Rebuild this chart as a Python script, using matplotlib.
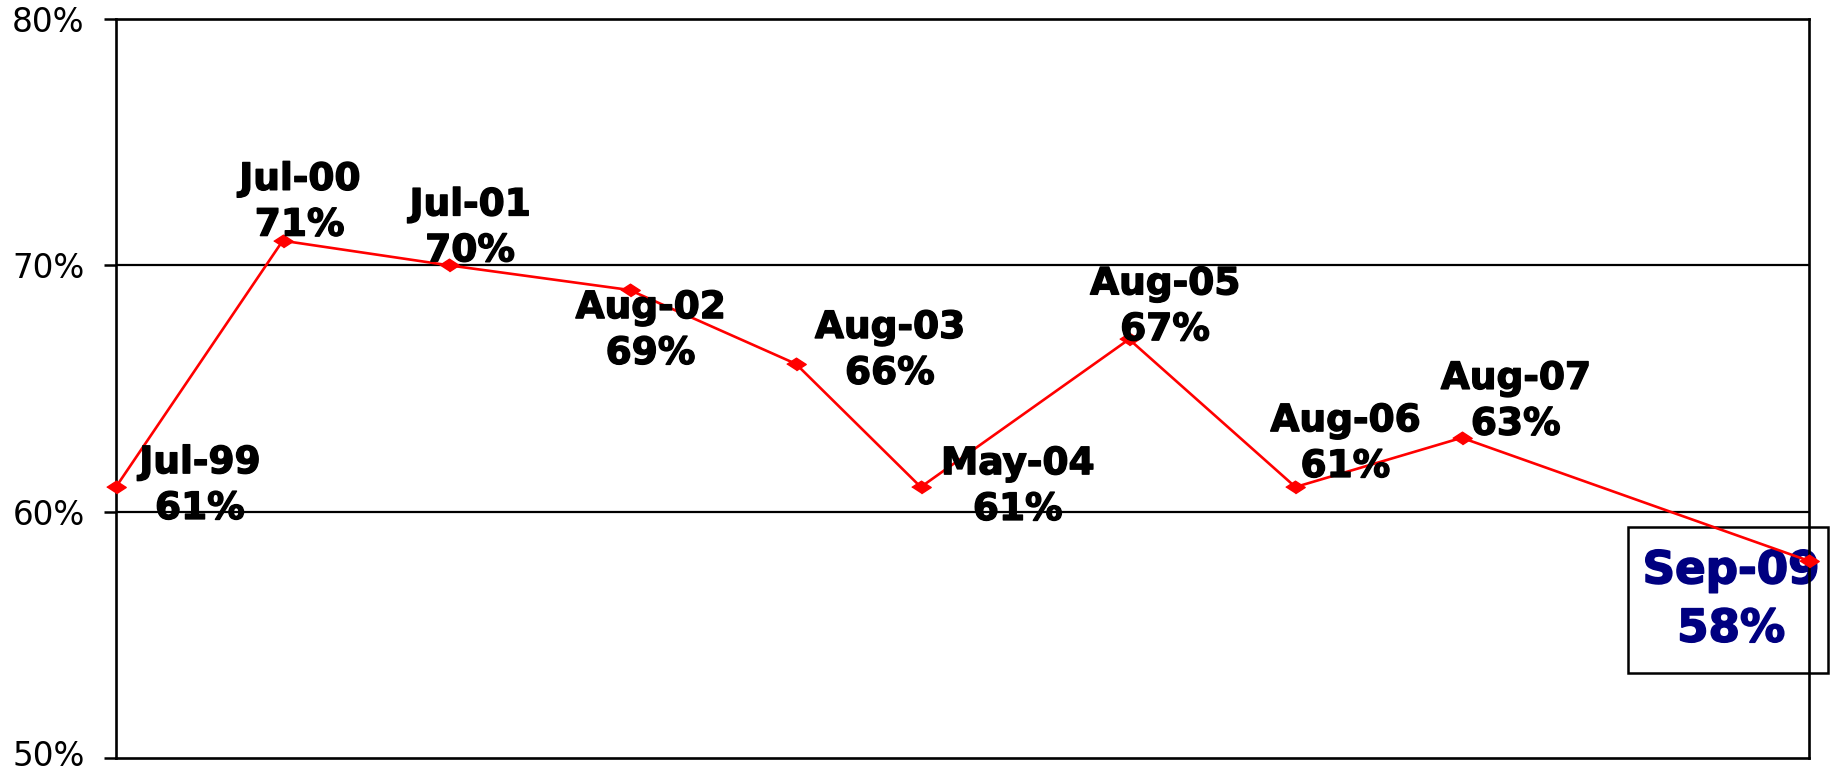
import matplotlib
matplotlib.use("Agg")
import matplotlib.pyplot as plt
import matplotlib.patheffects as pe
import matplotlib.transforms as mtransforms
import matplotlib.dates as mdates
from matplotlib.patches import Rectangle
import pandas as pd

# survey months and results
months = ["Jul-99", "Jul-00", "Jul-01", "Aug-02", "Aug-03",
          "May-04", "Aug-05", "Aug-06", "Aug-07", "Sep-09"]
values = [61, 71, 70, 69, 66, 61, 67, 61, 63, 58]
y_ticks = [50, 60, 70, 80]

# label placement relative to each point, in pixels (dx, dy)
label_offsets = [(84, 1), (17, 38), (21, 37), (21, -41), (94, 13),
                 (97, 0), (36, 32), (50, 43), (54, 36), (-78, -39)]

dates = pd.to_datetime(months, format="%b-%y")
vals = [v / 100 for v in values]

fig = plt.figure(figsize=(18.37, 7.73), dpi=100)
ax = fig.add_axes([0.0631, 0.0194, 0.9848 - 0.0631, 0.9754 - 0.0194])

diamond = [(-1, 0), (0, 0.65), (1, 0), (0, -0.65)]
ax.plot(dates, vals, color="red", lw=1.9, marker=diamond, ms=14,
        mec="red", mfc="red", clip_on=False, zorder=3)

ax.set_xlim(dates[0], dates[-1])
ax.set_ylim(0.5, 0.8)
ax.set_xticks([])
ax.set_yticks([t / 100 for t in y_ticks])
ax.set_yticklabels([f"{t}%" for t in y_ticks], fontsize=23.5)
ax.tick_params(axis="y", length=8.6, width=1.8, pad=14, colors="black")
# keep the bottom tick label inside the canvas
lbl = ax.get_yticklabels()[0]
lbl.set_transform(lbl.get_transform() + mtransforms.Affine2D().translate(0, 5))
for t in (0.6, 0.7):
    ax.axhline(t, color="black", lw=1.6, zorder=1)
for s in ax.spines.values():
    s.set_linewidth(1.9)
    s.set_color("black")

last = len(months) - 1
for i, (d, v, m, val) in enumerate(zip(dates, vals, months, values)):
    dx, dy = label_offsets[i]
    if i == last:
        ax.annotate(f"{m}\n{val}%", xy=(d, v), xytext=(dx, dy),
                    textcoords="offset pixels", ha="center", va="center",
                    multialignment="center", fontsize=32.5, fontweight="bold",
                    color="#000080", linespacing=1.45, annotation_clip=False,
                    zorder=2,
                    path_effects=[pe.withStroke(linewidth=1.2, foreground="#000080")])
        # frame around the latest result, in pixels around the point
        anchor = mtransforms.ScaledTranslation(mdates.date2num(d), v, ax.transData)
        ax.add_patch(Rectangle((-181, -112), 200, 146, transform=anchor,
                               fill=False, ec="black", lw=1.8, clip_on=False,
                               zorder=2))
    else:
        ax.annotate(f"{m}\n{val}%", xy=(d, v), xytext=(dx, dy),
                    textcoords="offset pixels", ha="center", va="center",
                    multialignment="center", fontsize=27, fontweight="bold",
                    color="black", linespacing=1.35, annotation_clip=False,
                    zorder=4,
                    path_effects=[pe.withStroke(linewidth=1.0, foreground="black")])

fig.savefig("out.png", dpi=100)
plt.close()
